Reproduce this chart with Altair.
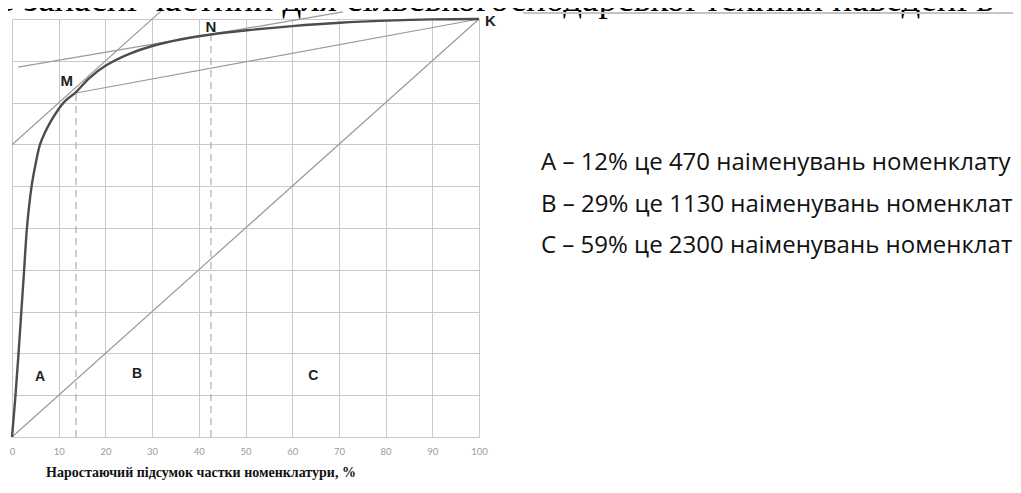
import altair as alt
import pandas as pd

# ---------------- data ----------------
grid_ticks = list(range(0, 101, 10))

curve_x = [0, 0.75, 1.4, 2.0, 2.6, 3.2, 4.2, 5.0, 6.0, 7.0, 8.3, 9.7, 11.3, 13.7,
           16.5, 20.0, 25.0, 30.2, 36.0, 42.6, 50.3, 60.0, 70.2, 80.3, 90.0, 100]
curve_y = [0, 10, 20, 30, 40, 50, 60, 65, 70, 72.7, 75.5, 78.0, 80.3, 82.5,
           85.8, 88.8, 91.6, 93.6, 95.1, 96.3, 97.3, 98.3, 99.1, 99.6, 99.9, 100]

tangent_m_x = [0, 32]
tangent_m_y = [69.9, 102.0]
tangent_n_x = [1.3, 70.9]
tangent_n_y = [88.5, 101.7]
chord_x = [13.7, 100]
chord_y = [82.3, 100]
diag_x = [0, 100]
diag_y = [0, 100]

drop_x = [13.7, 42.6]
drop_top = [82.3, 96.3]

point_names = ["M", "N", "K"]
point_lx = [11.7, 42.6, 101.3]
point_ly = [85.2, 98.0, 99.6]

zone_names = ["A", "B", "C"]
zone_lx = [6.0, 26.8, 64.5]
zone_ly = [14.4, 15.1, 14.6]

legend_lines = [
    "А – 12% це 470 наіменувань номенклату",
    "В – 29% це 1130 наіменувань номенклат",
    "С – 59% це 2300 наіменувань номенклат",
]
top_text = "е запасні  частини для сільськогосподарської техніки наведені в"
x_title = "Наростаючий підсумок частки номенклатури, %"

# ---------------- tables ----------------
curve_df = pd.DataFrame({"x": curve_x, "y": curve_y})

rows = []
for name, xs_, ys_ in [("tm", tangent_m_x, tangent_m_y), ("tn", tangent_n_x, tangent_n_y),
                       ("chord", chord_x, chord_y), ("diag", diag_x, diag_y)]:
    for i, (a, b) in enumerate(zip(xs_, ys_)):
        rows.append({"s": name, "x": a, "y": b, "o": i})
lines_df = pd.DataFrame(rows)

drop_df = pd.DataFrame({"x": drop_x, "y0": [0] * len(drop_x), "y1": drop_top})
pts_df = pd.DataFrame({"t": point_names, "x": point_lx, "y": point_ly})
zones_df = pd.DataFrame({"t": zone_names, "x": zone_lx, "y": zone_ly})

xs = alt.Scale(domain=[0, 100], nice=False, zero=False)
ys = alt.Scale(domain=[0, 100], nice=False, zero=False)

xaxis = alt.Axis(values=grid_ticks, grid=True, gridColor="#c9c9c9", gridWidth=1,
                 domain=False, ticks=False, labelFont="Lato", labelFontSize=9.5,
                 labelColor="#9c9c9c", labelPadding=9, labelFlush=False, title=None)
yaxis = alt.Axis(values=grid_ticks, grid=True, gridColor="#c9c9c9", gridWidth=1,
                 domain=False, ticks=False, labels=False, title=None)

thin = alt.Chart(lines_df).mark_line(color="#9a9a9a", strokeWidth=1.2).encode(
    x=alt.X("x:Q", scale=xs, axis=xaxis),
    y=alt.Y("y:Q", scale=ys, axis=yaxis),
    detail="s:N",
    order="o:Q",
)

drops = alt.Chart(drop_df).mark_rule(color="#a5a5a5", strokeWidth=1.1, strokeDash=[7, 5]).encode(
    x=alt.X("x:Q", scale=xs),
    y=alt.Y("y0:Q", scale=ys),
    y2="y1:Q",
)

curve = alt.Chart(curve_df).mark_line(color="#4d4d4d", strokeWidth=2.4,
                                      interpolate="catmull-rom").encode(
    x=alt.X("x:Q", scale=xs),
    y=alt.Y("y:Q", scale=ys),
)

pts = alt.Chart(pts_df).mark_text(font="Liberation Sans", fontWeight="bold", fontSize=15,
                                  color="#1e1e1e", align="center", baseline="middle").encode(
    x=alt.X("x:Q", scale=xs), y=alt.Y("y:Q", scale=ys), text="t:N")
k_fix = pts.transform_filter(alt.datum.t == "K").mark_text(
    font="Liberation Sans", fontWeight="bold", fontSize=15, color="#1e1e1e",
    align="left", baseline="middle")
pts_mn = pts.transform_filter(alt.datum.t != "K")

zones = alt.Chart(zones_df).mark_text(font="Liberation Sans", fontWeight="bold", fontSize=14,
                                      color="#1e1e1e", align="center", baseline="middle").encode(
    x=alt.X("x:Q", scale=xs), y=alt.Y("y:Q", scale=ys), text="t:N")

one = pd.DataFrame({"a": [0]})

legend_layers = []
for i, line in enumerate(legend_lines):
    legend_layers.append(
        alt.Chart(one).mark_text(text=line, font="Open Sans", fontSize=24, color="#111111",
                                 align="left", baseline="alphabetic").encode(
            x=alt.value(529), y=alt.value(151 + 41.5 * i))
    )

top = alt.Chart(one).mark_text(text=top_text, font="Liberation Serif", fontSize=37,
                               color="#000000", align="left", baseline="alphabetic").encode(
    x=alt.value(-14), y=alt.value(-8))

artifact = alt.Chart(one).mark_rule(color="#c4c4c4", strokeWidth=2).encode(
    x=alt.value(511), x2=alt.value(1010), y=alt.value(-6))

xtitle = alt.Chart(one).mark_text(text=x_title, font="Liberation Serif", fontWeight="bold",
                                  fontSize=14, color="#111111", align="center",
                                  baseline="middle").encode(
    x=alt.value(189), y=alt.value(454))

chart = alt.layer(thin, drops, curve, pts_mn, k_fix, zones, top, artifact, xtitle,
                  *legend_layers).properties(
    width=467, height=418,
    autosize=alt.AutoSizeParams(type="none"),
    padding={"left": 4, "top": 11, "right": 534, "bottom": 47},
    background="white",
).configure_view(stroke=None)

chart.save("out.html", embed_options={"renderer": "svg", "actions": False})
